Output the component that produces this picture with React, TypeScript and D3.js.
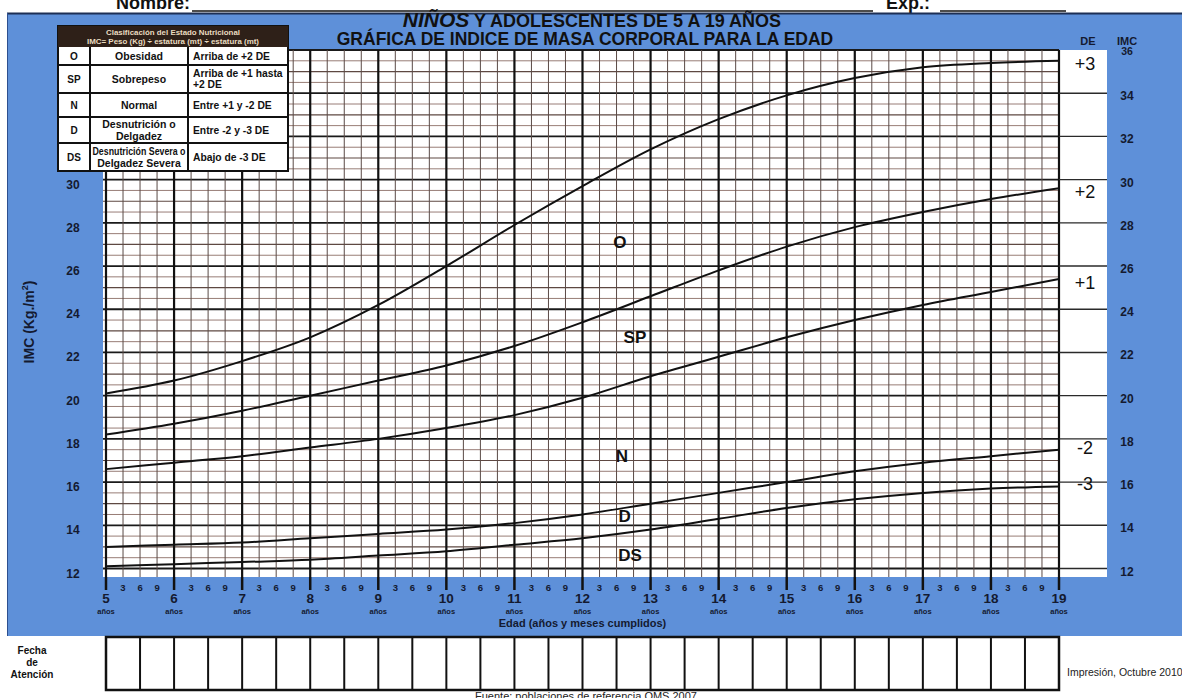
import React, { useEffect } from 'react';
import * as d3 from 'd3';

// ---- data ----
const ages = [5, 6, 7, 8, 9, 10, 11, 12, 13, 14, 15, 16, 17, 18, 19];
const bmiPlus3 = [20.1, 20.7, 21.6, 22.7, 24.2, 26.0, 27.9, 29.7, 31.4, 32.8, 33.9, 34.7, 35.2, 35.4, 35.5];
const bmiPlus2 = [18.2, 18.7, 19.3, 20.0, 20.7, 21.4, 22.3, 23.4, 24.6, 25.8, 26.9, 27.8, 28.5, 29.1, 29.6];
const bmiPlus1 = [16.6, 16.9, 17.2, 17.6, 18.0, 18.5, 19.1, 19.9, 20.9, 21.8, 22.7, 23.5, 24.2, 24.8, 25.4];
const bmiMinus2 = [13.0, 13.1, 13.2, 13.4, 13.6, 13.8, 14.1, 14.5, 15.0, 15.5, 16.0, 16.5, 16.9, 17.2, 17.5];
const bmiMinus3 = [12.1, 12.2, 12.3, 12.4, 12.6, 12.8, 13.1, 13.4, 13.8, 14.3, 14.8, 15.2, 15.5, 15.7, 15.8];
const sdLabels = ['+3', '+2', '+1', '-2', '-3'];
const monthLabels = ['3', '6', '9'];
const leftTicks = [12, 14, 16, 18, 20, 22, 24, 26, 28, 30];
const rightTicks = [12, 14, 16, 18, 20, 22, 24, 26, 28, 30, 32, 34, 36];
const zoneLabels = ['O', 'SP', 'N', 'D', 'DS'];
const zoneAge = [12.55, 12.77, 12.58, 12.62, 12.7];
const zoneBmi = [27.1, 22.7, 17.2, 14.4, 12.6];
const legendCodes = ['O', 'SP', 'N', 'D', 'DS'];
const legendNames = [['Obesidad'], ['Sobrepeso'], ['Normal'], ['Desnutrición o', 'Delgadez'], ['Desnutrición Severa o', 'Delgadez Severa']];
const legendRanges = [['Arriba de +2  DE'], ['Arriba de +1 hasta', '+2 DE'], ['Entre +1 y -2 DE'], ['Entre  -2 y  -3 DE'], ['Abajo de -3 DE']];

const series = [bmiPlus3, bmiPlus2, bmiPlus1, bmiMinus2, bmiMinus3];

const W = 1182;
const H = 698;
const BLUE = '#5e90d9';
const INK = '#141a30';
const FONT = '"Liberation Sans", Arial, Helvetica, sans-serif';

export default function App() {
  useEffect(() => {
    document.body.style.margin = '0';
    document.body.style.overflow = 'hidden';
  }, []);

  const x = d3.scaleLinear().domain([5, 19]).range([106, 1059]);
  const y = d3.scaleLinear().domain([12, 36]).range([568.5, 50]);
  const gridTop = 50;
  const gridBottom = 577;
  const gridLeft = 103;
  const boxRight = 1107;

  const line = d3
    .line<number>()
    .x((_, i) => x(ages[i]))
    .y((d) => y(d))
    .curve(d3.curveCatmullRom.alpha(0.5));

  const quarterTicks = d3.range(5, 19.001, 0.25);
  const halfValues = d3.range(12, 36.001, 0.5);
  const halfYears = d3.range(5, 19.001, 0.5);
  const yearTicks = ages;

  // legend table geometry
  const tL = 58, tR = 288, tTop = 26, tHead = 47;
  const rowB = [47, 65, 93, 117, 143, 171];
  const c1 = 90, c2 = 188;

  return (
    <svg
      width={W}
      height={H}
      style={{ position: 'absolute', left: 0, top: 0, background: '#fff', fontFamily: FONT }}
    >
      {/* header: Nombre / Exp */}
      <text x={116} y={9} fontSize={18} fontWeight="bold" fill="#111">Nombre:</text>
      <line x1={192} x2={873} y1={11} y2={11} stroke="#111" strokeWidth={1.5} />
      <text x={886} y={9} fontSize={18} fontWeight="bold" fill="#111">Exp.:</text>
      <line x1={940} x2={1066} y1={11} y2={11} stroke="#111" strokeWidth={1.5} />

      {/* blue panel */}
      <rect x={7} y={13} width={W - 7} height={623} fill={BLUE} />
      <line x1={7} x2={W} y1={13.5} y2={13.5} stroke="#1d2f55" strokeWidth={2} />
      <line x1={7.5} x2={7.5} y1={13} y2={636} stroke="#2d4f8f" strokeWidth={1} />

      {/* titles */}
      <text x={592} y={27} textAnchor="middle" fontWeight="bold" fill="#111" fontSize={18}>
        <tspan fontStyle="italic" fontSize={21}>NIÑOS</tspan>
        <tspan> Y ADOLESCENTES DE 5 A 19 AÑOS</tspan>
      </text>
      <text x={585} y={45} textAnchor="middle" fontWeight="bold" fill="#111" fontSize={17.5}>
        GRÁFICA DE INDICE DE MASA CORPORAL PARA LA EDAD
      </text>

      {/* white grid area + right DE box */}
      <rect x={gridLeft} y={gridTop} width={boxRight - gridLeft} height={gridBottom - gridTop} fill="#fff" />

      {/* horizontal grid */}
      {halfValues.map((v) => {
        const major = v % 2 === 0;
        const integer = v % 1 === 0;
        return (
          <line
            key={'h' + v}
            x1={gridLeft}
            x2={x(19)}
            y1={y(v)}
            y2={y(v)}
            stroke={major ? '#1a1a1a' : integer ? '#5e4842' : '#8c6e66'}
            strokeWidth={major ? 1.8 : integer ? 1.2 : 0.9}
          />
        );
      })}
      {/* vertical grid */}
      {quarterTicks.map((t) => {
        const major = t % 1 === 0;
        return (
          <line
            key={'v' + t}
            x1={x(t)}
            x2={x(t)}
            y1={gridTop}
            y2={gridBottom}
            stroke={major ? '#111' : '#5a4a46'}
            strokeWidth={major ? 2.2 : 1}
          />
        );
      })}
      {/* right DE box lines */}
      {rightTicks.filter((v) => v < 36).map((v) => (
        <line key={'r' + v} x1={x(19)} x2={boxRight} y1={y(v)} y2={y(v)} stroke="#2a2a2a" strokeWidth={1.4} />
      ))}

      {/* curves */}
      {series.map((s, i) => (
        <path key={'c' + i} d={line(s) || ''} fill="none" stroke="#111" strokeWidth={2} />
      ))}

      {/* DE labels */}
      {series.map((s, i) => (
        <text
          key={'de' + i}
          x={1085}
          y={y(s[s.length - 1]) + (sdLabels[i].startsWith('+') ? 3.5 : -2)}
          textAnchor="middle"
          dominantBaseline="central"
          fontSize={18}
          fill="#111"
        >
          {sdLabels[i]}
        </text>
      ))}

      {/* zone labels */}
      {zoneLabels.map((l, i) => (
        <text
          key={'z' + l}
          x={x(zoneAge[i])}
          y={y(zoneBmi[i])}
          textAnchor="middle"
          dominantBaseline="central"
          fontSize={17}
          fontWeight="bold"
          fill="#111"
        >
          {l}
        </text>
      ))}

      {/* left y labels */}
      {leftTicks.map((v) => (
        <text key={'ly' + v} x={73} y={y(v) + 5} textAnchor="middle" dominantBaseline="central" fontSize={12} fontWeight="bold" fill={INK}>
          {v}
        </text>
      ))}
      {/* right y labels */}
      {rightTicks.map((v) => (
        <text key={'ry' + v} x={1127} y={v === 36 ? y(v) + 1 : y(v) + 3} textAnchor="middle" dominantBaseline="central" fontSize={v === 36 ? 10.5 : 12} fontWeight="bold" fill={INK}>
          {v}
        </text>
      ))}
      <text x={1088} y={45} textAnchor="middle" fontSize={11} fontWeight="bold" fill={INK}>DE</text>
      <text x={1127} y={45} textAnchor="middle" fontSize={11} fontWeight="bold" fill={INK}>IMC</text>

      {/* y axis title */}
      <text
        transform={`translate(34, 322) rotate(-90)`}
        textAnchor="middle"
        fontSize={14}
        fontWeight="bold"
        fill={INK}
      >
        IMC (Kg./m<tspan fontSize={9} dy={-6}>2</tspan><tspan dy={6}>)</tspan>
      </text>

      {/* x axis: year ticks, month labels */}
      {yearTicks.map((a) => (
        <g key={'yt' + a}>
          <line x1={x(a)} x2={x(a)} y1={gridBottom} y2={590} stroke="#111" strokeWidth={2.5} />
          <text x={x(a)} y={603} textAnchor="middle" fontSize={13.5} fontWeight="bold" fill={INK}>{a}</text>
          <text x={x(a)} y={614} textAnchor="middle" fontSize={7.5} fontWeight="bold" fill={INK}>años</text>
          {a < 19 &&
            monthLabels.map((m, j) => (
              <text key={m} x={x(a + (j + 1) * 0.25)} y={591} textAnchor="middle" fontSize={9.5} fontWeight="bold" fill={INK}>
                {m}
              </text>
            ))}
        </g>
      ))}
      <text x={x(12)} y={627} textAnchor="middle" fontSize={11} fontWeight="bold" fill={INK}>
        Edad (años y meses cumplidos)
      </text>

      {/* legend table */}
      <rect x={tL} y={tTop} width={tR - tL} height={rowB[5] - tTop} fill="#fff" stroke="#111" strokeWidth={2} />
      <rect x={tL} y={tTop} width={tR - tL} height={tHead - tTop} fill="#2e2018" />
      <text x={(tL + tR) / 2} y={35} textAnchor="middle" fontSize={7} fontWeight="bold" fill="#eadcc0" textLength={134} lengthAdjust="spacingAndGlyphs">
        Clasificación del Estado Nutricional
      </text>
      <text x={(tL + tR) / 2} y={43.5} textAnchor="middle" fontSize={7} fontWeight="bold" fill="#eadcc0" textLength={172} lengthAdjust="spacingAndGlyphs">
        IMC= Peso (Kg) ÷ estatura (mt) ÷ estatura (mt)
      </text>
      {rowB.slice(1, 5).map((b) => (
        <line key={'rb' + b} x1={tL} x2={tR} y1={b} y2={b} stroke="#111" strokeWidth={2} />
      ))}
      <line x1={c1} x2={c1} y1={tHead} y2={rowB[5]} stroke="#111" strokeWidth={2} />
      <line x1={c2} x2={c2} y1={tHead} y2={rowB[5]} stroke="#111" strokeWidth={2} />
      {legendCodes.map((code, i) => {
        const cy = (rowB[i] + rowB[i + 1]) / 2;
        const names = legendNames[i];
        const ranges = legendRanges[i];
        return (
          <g key={'lg' + code} fontWeight="bold" fill="#111" style={{ whiteSpace: 'pre' }}>
            <text x={(tL + c1) / 2} y={cy} textAnchor="middle" dominantBaseline="central" fontSize={10}>{code}</text>
            {names.map((n, j) => (
              <text
                key={n}
                x={(c1 + c2) / 2}
                y={cy + (j - (names.length - 1) / 2) * 11.5}
                textAnchor="middle"
                dominantBaseline="central"
                fontSize={10.5}
                textLength={n.length > 16 ? 93 : undefined}
                lengthAdjust="spacingAndGlyphs"
              >
                {n}
              </text>
            ))}
            {ranges.map((r, j) => (
              <text
                key={r}
                x={c2 + 5}
                y={cy + (j - (ranges.length - 1) / 2) * 11.5}
                dominantBaseline="central"
                fontSize={10.3}
              >
                {r}
              </text>
            ))}
          </g>
        );
      })}

      {/* Fecha de atención boxes */}
      <rect x={x(5)} y={637} width={x(19) - x(5)} height={53} fill="#fff" stroke="#111" strokeWidth={2.5} />
      {halfYears.slice(1, -1).map((t) => (
        <line key={'fb' + t} x1={x(t)} x2={x(t)} y1={637} y2={690} stroke="#111" strokeWidth={2} />
      ))}
      <g fontSize={10} fontWeight="bold" fill="#111" textAnchor="middle">
        <text x={32} y={654}>Fecha</text>
        <text x={32} y={666}>de</text>
        <text x={32} y={678}>Atención</text>
      </g>
      <text x={1067} y={676} fontSize={10.5} fill="#222">Impresión, Octubre 2010</text>
      <text x={586} y={700} textAnchor="middle" fontSize={11} fill="#222">
        Fuente: poblaciones de referencia OMS 2007
      </text>
    </svg>
  );
}
